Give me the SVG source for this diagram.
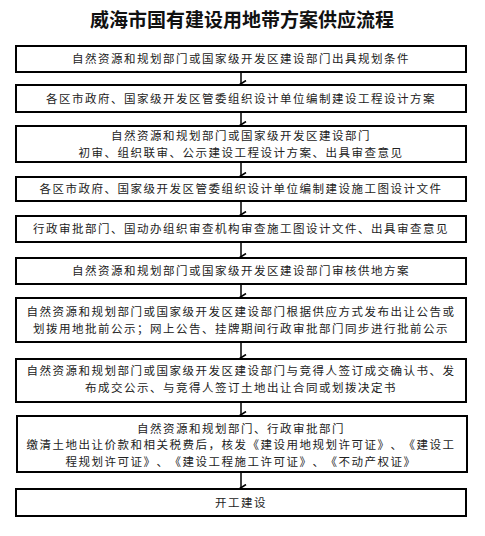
<svg xmlns="http://www.w3.org/2000/svg" width="485" height="536" viewBox="0 0 485 536">
<defs>
<style>
.box{fill:#fff;stroke:#000;stroke-width:2}
.t{font-family:"Noto Sans CJK SC","Noto Sans",sans-serif;font-size:11.5px;letter-spacing:1.5px;fill:#222;text-anchor:middle;text-spacing-trim:space-all}
.title{font-family:"Noto Sans CJK SC",sans-serif;font-size:19px;font-weight:bold;fill:#111;text-anchor:middle}
.c{stroke:#000;stroke-width:1.5;fill:none}
</style>
<marker id="ah" markerWidth="8" markerHeight="8" refX="4" refY="6" orient="auto" markerUnits="userSpaceOnUse" viewBox="0 0 8 8">
<path d="M0.5,1 L4,6.5 L7.5,1" fill="none" stroke="#000" stroke-width="1.6"/>
</marker>
</defs>
<rect width="485" height="536" fill="#fff"/>
<text class="title" x="242" y="27">威海市国有建设用地带方案供应流程</text>
<g id="connectors">
<line class="c" x1="241" y1="73" x2="241" y2="84" marker-end="url(#ah)"/>
<line class="c" x1="241" y1="113" x2="241" y2="125" marker-end="url(#ah)"/>
<line class="c" x1="241" y1="163" x2="241" y2="176" marker-end="url(#ah)"/>
<line class="c" x1="241" y1="202" x2="241" y2="215" marker-end="url(#ah)"/>
<line class="c" x1="241" y1="243" x2="241" y2="257" marker-end="url(#ah)"/>
<line class="c" x1="241" y1="285" x2="241" y2="297" marker-end="url(#ah)"/>
<line class="c" x1="241" y1="343" x2="241" y2="358" marker-end="url(#ah)"/>
<line class="c" x1="241" y1="403" x2="241" y2="415" marker-end="url(#ah)"/>
<line class="c" x1="241" y1="473" x2="241" y2="488" marker-end="url(#ah)"/>
</g>
<g id="n1"><rect class="box" x="16" y="46" width="450" height="26"/>
<text class="t" x="241" y="63">自然资源和规划部门或国家级开发区建设部门出具规划条件</text></g>
<g id="n2"><rect class="box" x="16" y="85" width="450" height="27"/>
<text class="t" x="241" y="103">各区市政府、国家级开发区管委组织设计单位编制建设工程设计方案</text></g>
<g id="n3"><rect class="box" x="16" y="126" width="450" height="36"/>
<text class="t" x="241" y="140">自然资源和规划部门或国家级开发区建设部门</text>
<text class="t" x="241" y="156.5">初审、组织联审、公示建设工程设计方案、出具审查意见</text></g>
<g id="n4"><rect class="box" x="16" y="177" width="450" height="24"/>
<text class="t" x="241" y="193">各区市政府、国家级开发区管委组织设计单位编制建设施工图设计文件</text></g>
<g id="n5"><rect class="box" x="16" y="216" width="450" height="26"/>
<text class="t" x="241" y="233">行政审批部门、国动办组织审查机构审查施工图设计文件、出具审查意见</text></g>
<g id="n6"><rect class="box" x="16" y="258" width="450" height="26"/>
<text class="t" x="241" y="275">自然资源和规划部门或国家级开发区建设部门审核供地方案</text></g>
<g id="n7"><rect class="box" x="16" y="298" width="450" height="44"/>
<text class="t" x="241" y="316">自然资源和规划部门或国家级开发区建设部门根据供应方式发布出让公告或</text>
<text class="t" x="241" y="333">划拨用地批前公示；网上公告、挂牌期间行政审批部门同步进行批前公示</text></g>
<g id="n8"><rect class="box" x="16" y="359" width="450" height="43"/>
<text class="t" x="241" y="375">自然资源和规划部门或国家级开发区建设部门与竞得人签订成交确认书、发</text>
<text class="t" x="241" y="392">布成交公示、与竞得人签订土地出让合同或划拨决定书</text></g>
<g id="n9"><rect class="box" x="17" y="416" width="450" height="56"/>
<text class="t" x="241" y="432.5">自然资源和规划部门、行政审批部门</text>
<text class="t" x="241" y="449">缴清土地出让价款和相关税费后，核发《建设用地规划许可证》、《建设工</text>
<text class="t" x="241" y="465.5">程规划许可证》、《建设工程施工许可证》、《不动产权证》</text></g>
<g id="n10"><rect class="box" x="16" y="489" width="450" height="27"/>
<text class="t" x="241" y="507">开工建设</text></g>
</svg>
